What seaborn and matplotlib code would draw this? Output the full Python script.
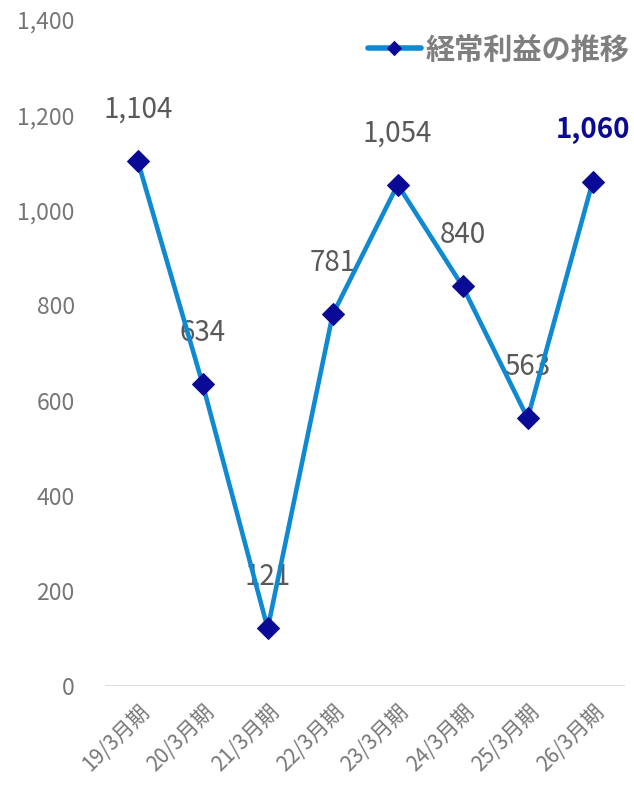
import numpy as np
import pandas as pd
import seaborn as sns
from matplotlib import pyplot as plt

periods = ["19/3月期", "20/3月期", "21/3月期", "22/3月期",
           "23/3月期", "24/3月期", "25/3月期", "26/3月期"]
profit = [1104, 634, 121, 781, 1054, 840, 563, 1060]
series_name = "経常利益の推移"

sns.set_theme(style="white")
plt.rcParams['font.family'] = ['Noto Sans CJK JP', 'DejaVu Sans']

df = pd.DataFrame({"period": periods, "value": profit})
df["x"] = np.arange(len(df))

fig = plt.figure(figsize=(6.34, 7.88), dpi=100)
ax = fig.add_axes([0.166, 0.1294, 0.820, 0.8452])

line_color = "#0F8AD2"
marker_color = "#0A0A96"
sns.lineplot(data=df, x="x", y="value", ax=ax, color=line_color, linewidth=3.3,
             marker="D", markersize=11, markerfacecolor=marker_color,
             markeredgecolor=marker_color, label=series_name, zorder=3)

for i, v in enumerate(profit):
    last = i == len(profit) - 1
    ax.annotate(f"{v:,}", (i, v), xytext=(0, 37), textcoords="offset points",
                ha="center", va="center", fontsize=20,
                color=marker_color if last else "#595959",
                fontweight="bold" if last else "normal", zorder=2)

ax.set_xlim(-0.5, len(periods) - 0.5)
ax.set_ylim(0, 1400)
ax.set_yticks(range(0, 1401, 200))
ax.set_yticklabels([f"{t:,}" for t in range(0, 1401, 200)], fontsize=16.5, color="#767676")
ax.set_xticks(df["x"])
ax.set_xticklabels(periods, rotation=45, ha="right", rotation_mode="anchor",
                   fontsize=15, color="#767676")
ax.tick_params(axis="y", length=0, pad=22)
ax.tick_params(axis="x", length=0, pad=10)
ax.set_xlabel("")
ax.set_ylabel("")
for s in ax.spines.values():
    s.set_visible(False)
ax.axhline(0, color="#D9D9D9", lw=1.2, zorder=1)

leg = ax.legend(loc="upper right", bbox_to_anchor=(1.041, 1.0045), frameon=False,
                handlelength=1.8, handletextpad=0.15, borderaxespad=0.2,
                prop={"size": 21, "weight": "bold"})
for t in leg.get_texts():
    t.set_color("#7F7F7F")
for h in leg.get_lines():
    h.set_markersize(7)
    h.set_linewidth(4)

fig.savefig("out.png", dpi=100)
